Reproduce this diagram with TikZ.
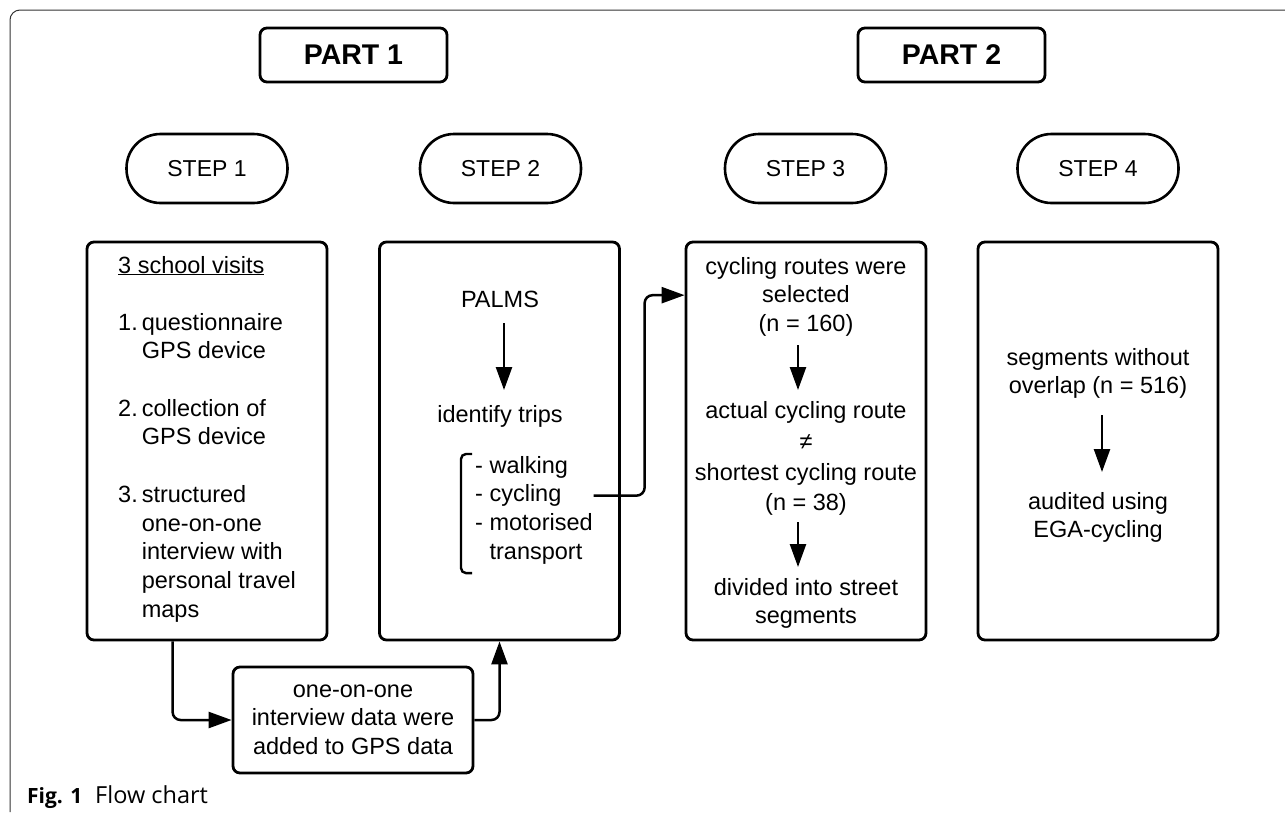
\documentclass[tikz,border=0pt]{standalone}
\usepackage{fontspec}
\setmainfont{Liberation Sans}
\newfontfamily\capfont{Open Sans}
\usetikzlibrary{arrows.meta,calc}
\newcommand\bodyfs{\fontsize{23.5pt}{28.7pt}\selectfont}
\begin{document}
\begin{tikzpicture}[x=1pt,y=-1pt,
  box/.style={draw, line width=2.8pt, rounded corners=7pt, minimum width=240pt, minimum height=398pt, inner sep=0pt},
  partbox/.style={draw, line width=2.8pt, rounded corners=7pt, minimum width=187pt, minimum height=54pt, inner sep=0pt, font=\fontsize{28.5pt}{33pt}\selectfont\bfseries},
  stepbox/.style={draw, line width=2.6pt, rounded corners=34pt, minimum width=161pt, minimum height=69pt, inner sep=0pt, font=\fontsize{23pt}{28pt}\selectfont},
  txt/.style={inner sep=0pt, font=\bodyfs},
  arr/.style={line width=2.5pt, -{Triangle[length=23pt,width=16pt]}},
  conn/.style={arr, rounded corners=8pt},
]
\useasboundingbox (0,0) rectangle (1285,812);
% outer frame
\draw[line width=1pt, black!80, rounded corners=10pt] (10,812) -- (10,10) -- (1285,10);

% parts and steps
\node[partbox] (p1) at (353.5,55) {PART 1};
\node[partbox] (p2) at (951.5,55) {PART 2};
\node[stepbox] (s1) at (207,168.5) {STEP 1};
\node[stepbox] (s2) at (500.5,168.5) {STEP 2};
\node[stepbox] (s3) at (805.5,168.5) {STEP 3};
\node[stepbox] (s4) at (1098,168.5) {STEP 4};

% boxes
\node[box] (b1) at (207,441) {};
\node[box] (b2) at (499.5,441) {};
\node[box] (b3) at (806,441) {};
\node[box] (b4) at (1098,441) {};
\node[box, minimum height=106pt] (b5) at (353,720) {};

% box 1
\node[txt, anchor=base west] (t1h) at (118,273) {\underline{3 school visits}};
\node[txt, anchor=north west] (t1i) at (118,309.9) {\begin{tabular}{@{}l@{\hspace{4pt}}l@{}}1.&questionnaire\\&GPS device\\[28.7pt]2.&collection of\\&GPS device\\[28.7pt]3.&structured\\&one-on-one\\&interview with\\&personal travel\\&maps\end{tabular}};

% box 2
\node[txt, anchor=north] (t2a) at (500,286.9) {\begin{tabular}{@{}c@{}}PALMS\end{tabular}};
\node[txt, anchor=north] (t2b) at (500,401.9) {\begin{tabular}{@{}c@{}}identify trips\end{tabular}};
\node[txt, anchor=base west] (l1) at (475,473) {- walking};
\node[txt, anchor=base west] (l2) at (475,501.7) {- cycling};
\node[txt, anchor=base west] (l3) at (475,530.4) {- motorised};
\node[txt, anchor=base west] (l4) at (489.4,559.1) {transport};
\draw[arr, shorten <=7.4pt, shorten >=11.9pt] ([xshift=4pt]t2a.south) -- ([xshift=4pt]t2b.north);
\draw[line width=2.4pt, rounded corners=5pt] ($(l1.base west)+(-3,-19)$) -- ($(l1.base west)+(-14,-19)$) -- ($(l4.base west)+(-28.4,14)$) -- ($(l4.base west)+(-17.4,14)$);

% box 3
\node[txt, anchor=north] (t3a) at (806,253.9) {\begin{tabular}{@{}c@{}}cycling routes were\\selected\\(n = 160)\end{tabular}};
\node[txt, anchor=north] (t3b) at (806,397.9) {\begin{tabular}{@{}c@{}}actual cycling route\\[2.3pt]≠\\[2.3pt]shortest cycling route\\[1.3pt](n = 38)\end{tabular}};
\node[txt, anchor=north] (t3c) at (806,574.9) {\begin{tabular}{@{}c@{}}divided into street\\segments\end{tabular}};
\draw[arr, shorten <=5pt, shorten >=7.9pt] ([xshift=-8pt]t3a.south) -- ([xshift=-8pt]t3b.north);
\draw[arr, shorten <=3.4pt, shorten >=7.9pt] ([xshift=-8pt]t3b.south) -- ([xshift=-8pt]t3c.north);

% box 4
\node[txt, anchor=north] (t4a) at (1098,344.9) {\begin{tabular}{@{}c@{}}segments without\\overlap (n = 516)\end{tabular}};
\node[txt, anchor=north] (t4b) at (1098,488.9) {\begin{tabular}{@{}c@{}}audited using\\EGA-cycling\end{tabular}};
\draw[arr, shorten <=12.7pt, shorten >=16.9pt] ([xshift=4pt]t4a.south) -- ([xshift=4pt]t4b.north);

% box 5
\node[txt, anchor=north] (t5) at (353,676.9) {\begin{tabular}{@{}c@{}}one-on-one\\interview data were\\added to GPS data\end{tabular}};

% connectors
\coordinate (in3) at ($(b3.west |- t3a.center)+(0,-2)$);
\draw[conn] ([xshift=32pt]l2.east) -| ([xshift=-40pt]in3) -- (in3);
\draw[conn] ([xshift=87pt]b1.south west) |- (b5.west);
\draw[conn] (b5.east) -| (b2.south);

% caption
\node[anchor=base west, inner sep=0pt, font=\capfont] (cap) at (27,803) {{\fontsize{21pt}{24pt}\selectfont\bfseries Fig. 1}\hspace{13pt}{\fontsize{23.5pt}{26pt}\selectfont Flow chart}};
\end{tikzpicture}
\end{document}
